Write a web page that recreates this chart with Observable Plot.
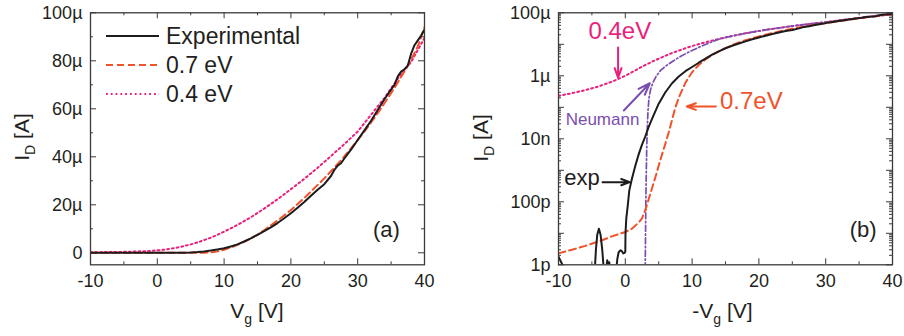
<!DOCTYPE html>
<html><head><meta charset="utf-8">
<script src="https://cdn.jsdelivr.net/npm/d3@7"></script>
<script src="https://cdn.jsdelivr.net/npm/@observablehq/plot@0.6"></script>
<style>
body{margin:0;background:#fff;}
#wrap{display:flex;width:904px;height:336px;overflow:hidden;}
svg{font-family:"Liberation Sans",Arial,sans-serif;}
</style></head><body><div id="wrap"></div>
<script>
// ---------- data (gate voltage in V, drain current in A) ----------
const expX = [-10,-9.5,-9.1,-7,-4.6,-4.4,-4.2,-3.95,-3.7,-3.45,-3.2,-2.9,-2.7,-2.55,-2.4,-2.2,-1.4,-1.2,-1.0,-0.7,-0.5,-0.3,-0.1,0,0.03,0.15,0.35,0.6,1,1.5,2,2.5,3,3.5,4,5,6,7,8,9,10,11,12,13,14,15,16,17,18,19,20,21,22,23,24,25,26,26.5,27,27.5,28,29,30,31,32,33,34,35,35.5,36,36.5,37,37.5,38,38.5,39,39.5,40];
const expI = [1.8e-12,1.1e-12,6e-13,3e-13,5e-13,3e-12,9e-12,1.4e-11,9e-12,3e-12,6e-13,6e-13,1.4e-12,8e-13,1.2e-12,5e-13,5e-13,1.5e-12,2.5e-12,2.9e-12,2.7e-12,2.3e-12,2.4e-12,2.6e-12,1e-11,3e-11,7e-11,2.3e-10,5.5e-10,1.4e-9,3.2e-9,6.5e-9,1.2e-8,2.4e-8,4.3e-8,1.3e-7,3e-7,5.8e-7,9.5e-7,1.4e-6,1.9e-6,2.6e-6,3.5e-6,4.7e-6,6.0e-6,7.5e-6,9.0e-6,10.6e-6,12.4e-6,14.4e-6,16.5e-6,18.8e-6,21.2e-6,23.8e-6,26.3e-6,28.6e-6,32e-6,34.5e-6,36.3e-6,37.3e-6,39.3e-6,43e-6,47e-6,51e-6,55e-6,59.5e-6,64e-6,68e-6,70e-6,73.5e-6,75.5e-6,76.5e-6,78e-6,83e-6,86.5e-6,88.5e-6,90.5e-6,93e-6];

const fit07X = [-10,-8,-6,-4,-2,0,1,2,2.5,3,3.5,4,4.5,5,5.5,6,6.5,7,7.5,8,8.5,9,9.5,10,11,12,13,14,15,16,17,18,19,20,22,24,25,26,27,28,29,30,31,32,33,34,35,36,37,38,39,40];
const fit07I = [2.3e-12,3e-12,4e-12,5.5e-12,8e-12,1.1e-11,1.4e-11,2.2e-11,3e-11,5.5e-11,1.2e-10,2.7e-10,6e-10,1.4e-9,3.2e-9,7e-9,1.6e-8,4e-8,1e-7,2e-7,3.5e-7,6e-7,9e-7,1.3e-6,2.2e-6,3.3e-6,4.6e-6,6e-6,7.6e-6,9.4e-6,11.4e-6,13.5e-6,15.6e-6,17.8e-6,22.8e-6,28.3e-6,31e-6,34e-6,37e-6,40.2e-6,43.5e-6,47e-6,50.5e-6,54.3e-6,58.2e-6,62.3e-6,66.5e-6,71e-6,75.6e-6,80.5e-6,86e-6,94e-6];

const fit04X = [-10,-8,-6,-4,-2,-1,0,1,2,3,4,5,6,7,8,9,10,12,14,16,18,20,22,24,26,28,30,32,34,35,36,37,38,39,40];
const fit04I = [2.3e-7,2.8e-7,3.5e-7,4.6e-7,6.5e-7,8e-7,1.0e-6,1.3e-6,1.7e-6,2.2e-6,2.8e-6,3.5e-6,4.3e-6,5.3e-6,6.3e-6,7.5e-6,8.8e-6,11.6e-6,14.8e-6,18.4e-6,22.3e-6,26.5e-6,30.8e-6,35.4e-6,40.3e-6,45.3e-6,50.5e-6,57.5e-6,64.5e-6,68.5e-6,72.5e-6,76e-6,79.5e-6,84.5e-6,89.5e-6];

const neuX = [2.97,3.0,3.05,3.12,3.2,3.3,3.4,3.55,3.8,4.1,4.6,5.3,6,7,8,9,10,11,12,13,14,16,18,20,22,24,26,28,30,32,34,36,38,40];
const neuI = [3e-13,2e-12,3e-11,5e-10,4e-9,2.5e-8,8e-8,2e-7,3.8e-7,5.8e-7,9.5e-7,1.5e-6,2e-6,2.8e-6,3.8e-6,5e-6,6.4e-6,8e-6,9.9e-6,1.2e-5,1.45e-5,1.84e-5,2.23e-5,2.65e-5,3.08e-5,3.54e-5,4.03e-5,4.53e-5,5.05e-5,5.75e-5,6.45e-5,7.4e-5,8.4e-5,1e-4];

const xTicks = [-10,0,10,20,30,40];
const xMinor = [-5,5,15,25,35];
const linYTicks = [0,20,40,60,80,100];
const linYLabels = ["0","20µ","40µ","60µ","80µ","100µ"];
const linYMinor = [10,30,50,70,90];
const logYTicks = [1e-12,1e-10,1e-8,1e-6,1e-4];
const logYLabels = ["1p","100p","10n","1µ","100µ"];
const legendNames = ["Experimental","0.7 eV","0.4 eV"];

// ---------- styles ----------
const cExp = "#1e1b1c", c07 = "#f0522a", c04 = "#ea1f7c", cNeu = "#7a4db0";
const frameC = "#3a3a3a", txtC = "#231f20";
const FONT = '"Liberation Sans", Arial, sans-serif';
const rows = (X, I) => X.map((x, i) => ({x, I: I[i]}));
const expRows = rows(expX, expI), r07 = rows(fit07X, fit07I), r04 = rows(fit04X, fit04I), rNeu = rows(neuX, neuI);

const H = 336, mT = 12.3, mB = 71.7, ph = H - mT - mB;
const MAJ = 6, MIN = 3;

function xTickMarks(vals, len) {
  return [
    Plot.tickX(vals, {x: d => d, insetTop: ph - len, stroke: frameC, strokeWidth: 1}),
    Plot.tickX(vals, {x: d => d, insetBottom: ph - len, stroke: frameC, strokeWidth: 1})
  ];
}
function yTickMarks(vals, len, pw) {
  return [
    Plot.tickY(vals, {y: d => d, insetRight: pw - len, stroke: frameC, strokeWidth: 1}),
    Plot.tickY(vals, {y: d => d, insetLeft: pw - len, stroke: frameC, strokeWidth: 1})
  ];
}

// ---------- left panel (linear) ----------
const W1 = 452, mL1 = 90, mR1 = 28, pw1 = W1 - mL1 - mR1;
const left = Plot.plot({
  width: W1, height: H, marginTop: mT, marginBottom: mB, marginLeft: mL1, marginRight: mR1,
  x: {domain: [-10, 40]},
  y: {domain: [-5, 100]},
  style: {fontFamily: FONT, fontSize: "18px", color: txtC, background: "white", overflow: "visible"},
  marks: [
    ...xTickMarks(xTicks, MAJ), ...xTickMarks(xMinor, MIN),
    ...yTickMarks(linYTicks, MAJ, pw1), ...yTickMarks(linYMinor, MIN, pw1),
    Plot.line(r04, {x: "x", y: d => d.I * 1e6, stroke: c04, strokeWidth: 2, strokeDasharray: "1.8,3", clip: true}),
    Plot.line(r07, {x: "x", y: d => d.I * 1e6, stroke: c07, strokeWidth: 2, strokeDasharray: "7,4", clip: true}),
    Plot.line(expRows, {x: "x", y: d => d.I * 1e6, stroke: cExp, strokeWidth: 2, clip: true}),
    Plot.frame({stroke: frameC, strokeWidth: 1.3}),
    Plot.axisX({ticks: xTicks, tickSize: 0, tickPadding: 9, tickFormat: d => String(d), label: null, fontSize: 18, fill: txtC}),
    Plot.axisY({ticks: linYTicks, tickSize: 0, tickPadding: 8, tickFormat: d => linYLabels[linYTicks.indexOf(d)], label: null, fontSize: 18, fill: txtC}),
    Plot.text([{x: 34.3, y: 6.5, t: "(a)"}], {x: "x", y: "y", text: "t", fontSize: 22, lineAnchor: "bottom", fill: txtC})
  ]
});

// ---------- right panel (log) ----------
const W2 = 452, mL2 = 106, mR2 = 12, pw2 = W2 - mL2 - mR2;
const logMajor = d3.range(-12, -3).map(e => Math.pow(10, e));
const logMinor = [];
for (let e = -12; e < -4; e++) for (let k = 2; k <= 9; k++) logMinor.push(k * Math.pow(10, e));

const annText = [
  {x: -0.82, y: 1.5e-5, t: "0.4eV", c: c04, s: 24},
  {x: 18.86, y: 9.0e-8, t: "0.7eV", c: c07, s: 24},
  {x: -3.41, y: 2.84e-8, t: "Neumann", c: cNeu, s: 17},
  {x: -6.47, y: 3.47e-10, t: "exp", c: cExp, s: 22},
  {x: 35.6, y: 7.5e-12, t: "(b)", c: txtC, s: 22}
];
const annArrows = [
  {x1: -1.08, y1: 7.9e-6, x2: -1.08, y2: 8.8e-7, c: c04},
  {x1: 13.55, y1: 1.06e-7, x2: 9.2, y2: 1.06e-7, c: c07},
  {x1: -0.22, y1: 7.9e-8, x2: 3.67, y2: 5.8e-7, c: cNeu},
  {x1: -3.41, y1: 4.2e-10, x2: 0.67, y2: 4.2e-10, c: cExp}
];

const right = Plot.plot({
  width: W2, height: H, marginTop: mT, marginBottom: mB, marginLeft: mL2, marginRight: mR2,
  x: {domain: [-10, 40]},
  y: {type: "log", domain: [1e-12, 1e-4]},
  style: {fontFamily: FONT, fontSize: "18px", color: txtC, background: "white", overflow: "visible"},
  marks: [
    ...xTickMarks(xTicks, MAJ), ...xTickMarks(xMinor, MIN),
    ...yTickMarks(logMajor, MAJ, pw2), ...yTickMarks(logMinor, MIN, pw2),
    Plot.line(r04, {x: "x", y: "I", stroke: c04, strokeWidth: 2, strokeDasharray: "1.8,3", clip: true}),
    Plot.line(rNeu, {x: "x", y: "I", stroke: cNeu, strokeWidth: 1.7, strokeDasharray: "6,2.5,1.5,2.5", clip: true}),
    Plot.line(r07, {x: "x", y: "I", stroke: c07, strokeWidth: 2, strokeDasharray: "7,4", clip: true}),
    Plot.line(expRows, {x: "x", y: "I", stroke: cExp, strokeWidth: 2, clip: true}),
    Plot.frame({stroke: frameC, strokeWidth: 1.3}),
    Plot.axisX({ticks: xTicks, tickSize: 0, tickPadding: 9, tickFormat: d => String(d), label: null, fontSize: 18, fill: txtC}),
    Plot.axisY({ticks: logYTicks, tickSize: 0, tickPadding: 8, tickFormat: d => logYLabels[logYTicks.findIndex(v => Math.abs(v / d - 1) < 1e-6)], label: null, fontSize: 18, fill: txtC}),
    Plot.arrow(annArrows, {x1: "x1", y1: "y1", x2: "x2", y2: "y2", stroke: "c", strokeWidth: 2, headLength: 10, headAngle: 40}),
    Plot.text(annText, {x: "x", y: "y", text: "t", fill: "c", fontSize: "s", lineAnchor: "bottom"})
  ]
});

// ---------- axis titles with subscripts and the legend ----------
function subLabel(svg, parts, x, y, rotate) {
  const g = d3.select(svg).append("g")
    .attr("transform", `translate(${x},${y})` + (rotate ? " rotate(-90)" : ""));
  const t = g.append("text").attr("text-anchor", "middle").attr("font-size", 21)
    .attr("fill", txtC).attr("font-family", FONT);
  t.append("tspan").text(parts[0]);
  t.append("tspan").attr("font-size", 14).attr("dy", 6).text(parts[1]);
  t.append("tspan").attr("dy", -6).text(parts[2]);
}
subLabel(left, ["V", "g", " [V]"], 257, 318, false);
subLabel(left, ["I", "D", " [A]"], 28.5, 137, true);
subLabel(right, ["-V", "g", " [V]"], 270.5, 318, false);
subLabel(right, ["I", "D", " [A]"], 36.3, 138, true);

const lg = d3.select(left).append("g");
const legendStyles = [
  {c: cExp, dash: null},
  {c: c07, dash: "7,4"},
  {c: c04, dash: "1.8,3"}
];
legendNames.forEach((name, i) => {
  const yy = 36 + i * 29;
  const ln = lg.append("line").attr("x1", 106).attr("x2", 159).attr("y1", yy).attr("y2", yy)
    .attr("stroke", legendStyles[i].c).attr("stroke-width", 2);
  if (legendStyles[i].dash) ln.attr("stroke-dasharray", legendStyles[i].dash);
  lg.append("text").attr("x", 166).attr("y", yy + 8).attr("font-size", 23)
    .attr("text-anchor", "start").attr("fill", txtC).attr("font-family", FONT).text(name);
});

document.getElementById("wrap").append(left, right);
</script>
</body></html>
